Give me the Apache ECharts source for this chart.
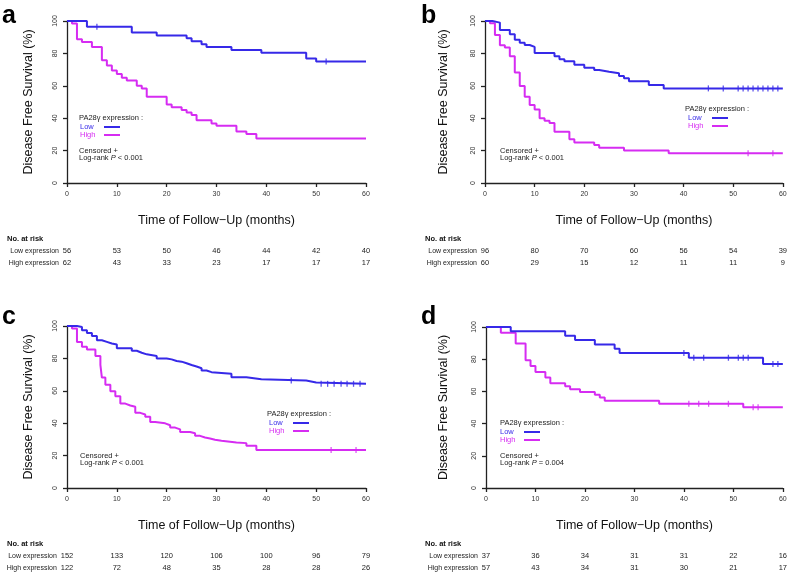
<!DOCTYPE html>
<html>
<head>
<meta charset="utf-8">
<script src="https://cdn.jsdelivr.net/npm/echarts@6/dist/echarts.min.js"></script>
<style>
  html, body { margin: 0; padding: 0; background: #fff; }
  #main { width: 790px; height: 575px; }
</style>
</head>
<body>
<div id="main"></div>
<script>
// x tick values (months) - at risk numbers sit on these
var months = [0, 10, 20, 30, 40, 50, 60]

// panel a
var aLow = [[0, 100], [4, 96.4], [13, 92.9], [18, 91.1], [24, 89.3], [25, 87.5], [27, 85.7], [28, 83.9], [33, 82.1], [39, 80.4], [48, 76.8], [50, 75], [60, 75]]
var aHigh = [[0, 100], [1, 98.4], [2, 88.7], [3, 87.1], [5, 83.9], [7, 75.8], [8, 72.6], [9, 69.5], [10, 67.3], [11, 65], [12, 63.2], [14, 60], [15, 58.4], [16, 53.3], [20, 48.4], [21, 46.7], [23, 45.1], [24, 43.5], [25, 41.9], [26, 38.7], [29, 36.8], [30, 35.3], [34, 31.8], [36, 30.2], [38, 27.4], [60, 27.4]]
var aLowCens = [6, 52]
var aHighCens = []
var aRiskLow = [56, 53, 50, 46, 44, 42, 40]
var aRiskHigh = [62, 43, 33, 23, 17, 17, 17]

// panel b
var bLow = [[0, 100], [1.5, 99], [3, 94.5], [5, 91.8], [6, 88.5], [7, 86.5], [8, 85.2], [9, 84], [10, 80.2], [14, 78.2], [15, 76.4], [16, 75.1], [18, 73], [20, 71.2], [22, 69.8], [23, 68.7], [25, 67.7], [27, 66], [28, 64.6], [29, 62.8], [33, 60.5], [36, 58.4], [60, 58.4]]
var bHigh = [[0, 100], [1, 98.6], [2, 91.3], [3, 85], [4, 83.6], [5, 78.2], [6, 68.2], [7, 59.8], [8, 53.3], [9, 48.1], [10, 45.3], [11, 40], [12, 38.5], [13, 37], [14, 31.7], [17, 27], [18, 25], [22, 23.5], [23, 21.8], [28, 20], [37, 18.4], [60, 18.4]]
var bLowCens = [45, 48, 51, 52, 53, 54, 55, 56, 57, 58, 59]
var bHighCens = [53, 58]
var bRiskLow = [96, 80, 70, 60, 56, 54, 39]
var bRiskHigh = [60, 29, 15, 12, 11, 11, 9]

// panel c
var cLow = [[0, 100], [2, 99.4], [3, 97.4], [4, 95.7], [5, 93.9], [6, 91.2], [7, 90.2], [8, 89.2], [9, 88.6], [10, 86.2], [13, 84.7], [14, 83.5], [15, 82.5], [16, 81.5], [18, 80], [20, 79.4], [21, 78.4], [22, 78], [23, 77], [24, 75.9], [25, 75], [26, 73.9], [27, 72.5], [28, 71.5], [29, 70.5], [33, 68.4], [36, 67.2], [39, 66.3], [48, 65.1], [50, 64.3], [60, 64.3]]
var cHigh = [[0, 100], [1, 98.4], [2, 90.2], [3, 87.2], [4, 85.5], [5.7, 81.5], [6.7, 76], [7, 68.2], [7.7, 63.8], [8.7, 59.7], [9.7, 56.6], [10.7, 52.1], [11.7, 50.9], [12.7, 50.1], [13.7, 46.4], [14.7, 45.4], [15.7, 44], [16.7, 40.7], [17.7, 39.9], [19.7, 38.7], [20.7, 37.3], [21.7, 36.2], [22.7, 34.6], [24.7, 33.8], [25.7, 32.2], [26.7, 31.2], [27.7, 30.6], [28.7, 29.8], [29.7, 29.1], [31, 28.1], [34, 27.7], [36, 26.1], [38, 23.4], [60, 23.4]]
var cLowCens = [45, 51, 52.3, 53.6, 55, 56.2, 57.5, 58.8]
var cHighCens = [53, 58]
var cRiskLow = [152, 133, 120, 106, 100, 96, 79]
var cRiskHigh = [122, 72, 48, 35, 28, 28, 26]

// panel d
var dLow = [[0, 100], [5, 97.3], [16, 94.6], [18, 91.9], [22, 89.2], [26, 86.5], [27, 83.8], [41, 80.9], [56, 77], [60, 77]]
var dHigh = [[0, 100], [3, 96.5], [6, 89.7], [8, 79.4], [9, 75.7], [10, 72.1], [12, 68.6], [13, 65], [16, 63.2], [17, 61.4], [19, 59.6], [22, 57.9], [23, 56.2], [24, 54.2], [35, 52.3], [52, 50.1], [60, 50.1]]
var dLowCens = [40, 42, 44, 49, 51, 52, 53, 58, 59]
var dHighCens = [41, 43, 45, 49, 54, 55]
var dRiskLow = [37, 36, 34, 31, 31, 22, 16]
var dRiskHigh = [57, 43, 34, 31, 30, 21, 17]

var BLUE = '#3629e8'
var MAG = '#d62cf2'
var FONT = 'Liberation Sans, Arial, sans-serif'

// layout of each panel (positions only)
var panels = [
  { tag: 'a', low: aLow, high: aHigh, lowCens: aLowCens, highCens: aHighCens, riskLow: aRiskLow, riskHigh: aRiskHigh, p: ' < 0.001',
    grid: { left: 67, top: 21, width: 299, height: 162 }, tagPos: [2, 4], yGap: 32,
    head: [79, 113], leg: [80, 123], cens: [79, 146], risk: [7, 234] },
  { tag: 'b', low: bLow, high: bHigh, lowCens: bLowCens, highCens: bHighCens, riskLow: bRiskLow, riskHigh: bRiskHigh, p: ' < 0.001',
    grid: { left: 485, top: 21, width: 299, height: 162 }, tagPos: [421, 4], yGap: 35,
    head: [685, 104], leg: [688, 114], cens: [500, 146], risk: [425, 234] },
  { tag: 'c', low: cLow, high: cHigh, lowCens: cLowCens, highCens: cHighCens, riskLow: cRiskLow, riskHigh: cRiskHigh, p: ' < 0.001',
    grid: { left: 67, top: 326, width: 299, height: 162 }, tagPos: [2, 305], yGap: 32,
    head: [267, 409], leg: [269, 419], cens: [80, 451], risk: [7, 539] },
  { tag: 'd', low: dLow, high: dHigh, lowCens: dLowCens, highCens: dHighCens, riskLow: dRiskLow, riskHigh: dRiskHigh, p: ' = 0.004',
    grid: { left: 486, top: 327, width: 298, height: 161 }, tagPos: [421, 305], yGap: 36,
    head: [500, 418], leg: [500, 428], cens: [500, 451], risk: [425, 539] }
]

// survival value of a step curve at time t
function survAt (curve, t) {
  var v = curve[0][1]
  curve.forEach(function (p) { if (p[0] <= t) v = p[1] })
  return v
}

var grids = [], xAxes = [], yAxes = [], series = [], titles = [], legends = []

panels.forEach(function (p, g) {
  grids.push(p.grid)
  // main x axis
  xAxes.push({
    gridIndex: g, type: 'value', min: 0, max: 60, interval: 10,
    name: 'Time of Follow\u2212Up (months)', nameLocation: 'middle', nameGap: 31,
    nameTextStyle: { fontSize: 12.5, color: '#111', fontFamily: FONT },
    axisLine: { lineStyle: { color: '#222', width: 1.3 } },
    axisTick: { length: 4, lineStyle: { color: '#222', width: 1.3 } },
    axisLabel: { fontSize: 7, color: '#333', margin: 8, fontFamily: FONT },
    splitLine: { show: false }
  })
  // at risk rows, on the same scale
  var rows = [['Low expression', p.riskLow, 68], ['High expression', p.riskHigh, 80]]
  rows.forEach(function (r) {
    xAxes.push({
      gridIndex: g, type: 'value', min: 0, max: 60, interval: 10, position: 'bottom', offset: r[2],
      name: r[0], nameLocation: 'start', nameGap: 8,
      nameTextStyle: { fontSize: 7, color: '#222', fontFamily: FONT },
      axisLine: { show: false }, axisTick: { show: false }, splitLine: { show: false },
      axisLabel: {
        fontSize: 7.5, color: '#222', margin: 0, verticalAlign: 'middle', fontFamily: FONT,
        formatter: function (v) { return r[1][months.indexOf(v)] }
      }
    })
  })
  yAxes.push({
    gridIndex: g, type: 'value', min: 0, max: 100, interval: 20,
    name: 'Disease Free Survival (%)', nameLocation: 'middle', nameGap: p.yGap,
    nameTextStyle: { fontSize: 12.5, color: '#111', fontFamily: FONT },
    axisLine: { show: true, lineStyle: { color: '#222', width: 1.3 } },
    axisTick: { show: true, length: 4, lineStyle: { color: '#222', width: 1.3 } },
    axisLabel: { fontSize: 7, color: '#333', rotate: 90, margin: 8, fontFamily: FONT },
    splitLine: { show: false }
  })

  var xi = g * 3
  series.push({
    name: 'Low', type: 'line', step: 'end', xAxisIndex: xi, yAxisIndex: g, data: p.low,
    showSymbol: false, lineStyle: { color: BLUE, width: 2 }, itemStyle: { color: BLUE }, z: 3
  })
  series.push({
    name: 'High', type: 'line', step: 'end', xAxisIndex: xi, yAxisIndex: g, data: p.high,
    showSymbol: false, lineStyle: { color: MAG, width: 2 }, itemStyle: { color: MAG }, z: 2
  })
  series.push({
    name: 'cens', type: 'scatter', xAxisIndex: xi, yAxisIndex: g, symbol: 'rect', symbolSize: [1.3, 6],
    itemStyle: { color: BLUE }, data: p.lowCens.map(function (t) { return [t, survAt(p.low, t)] }), z: 4
  })
  series.push({
    name: 'cens', type: 'scatter', xAxisIndex: xi, yAxisIndex: g, symbol: 'rect', symbolSize: [1.3, 6],
    itemStyle: { color: MAG }, data: p.highCens.map(function (t) { return [t, survAt(p.high, t)] }), z: 4
  })

  var small = { fontSize: 7.5, color: '#222', fontWeight: 'normal', fontFamily: FONT, lineHeight: 9 }
  titles.push({ text: p.tag, left: p.tagPos[0], top: p.tagPos[1], padding: 0,
    textStyle: { fontSize: 25, fontWeight: 'bold', color: '#000', fontFamily: FONT } })
  titles.push({ text: 'PA28\u03b3 expression :', left: p.head[0], top: p.head[1], padding: 0, textStyle: small })
  titles.push({ text: 'Censored +', left: p.cens[0], top: p.cens[1], padding: 0, textStyle: small })
  titles.push({ text: '{n|Log-rank }{i|P}{n|' + p.p + '}', left: p.cens[0], top: p.cens[1] + 8, padding: 0,
    textStyle: { fontSize: 7.5, color: '#222', fontWeight: 'normal', fontFamily: FONT, rich: {
      n: { fontSize: 7.5, color: '#222', fontWeight: 'normal', fontFamily: FONT },
      i: { fontSize: 7.5, color: '#222', fontWeight: 'normal', fontFamily: FONT, fontStyle: 'italic' }
    } } })
  titles.push({ text: 'No. at risk', left: p.risk[0], top: p.risk[1], padding: 0,
    textStyle: { fontSize: 7.5, color: '#111', fontWeight: 'bold', fontFamily: FONT, lineHeight: 9 } })

  legends.push({
    left: p.leg[0], top: p.leg[1], orient: 'vertical', align: 'right', padding: 0,
    itemWidth: 16, itemHeight: 2, itemGap: 0, icon: 'rect', selectedMode: false,
    formatter: '{w|{name}}',
    textStyle: { fontSize: 7.5, fontFamily: FONT, lineHeight: 8, padding: 0,
      rich: { w: { width: 19, align: 'left', fontSize: 7.5, lineHeight: 8 } } },
    data: [
      { name: 'Low', textStyle: { color: BLUE } },
      { name: 'High', textStyle: { color: MAG } }
    ]
  })
})

var myChart = echarts.init(document.getElementById('main'))
myChart.setOption({
  backgroundColor: '#fff',
  animation: false,
  textStyle: { fontFamily: FONT },
  title: titles,
  legend: legends,
  grid: grids,
  xAxis: xAxes,
  yAxis: yAxes,
  series: series
})
</script>
</body>
</html>
